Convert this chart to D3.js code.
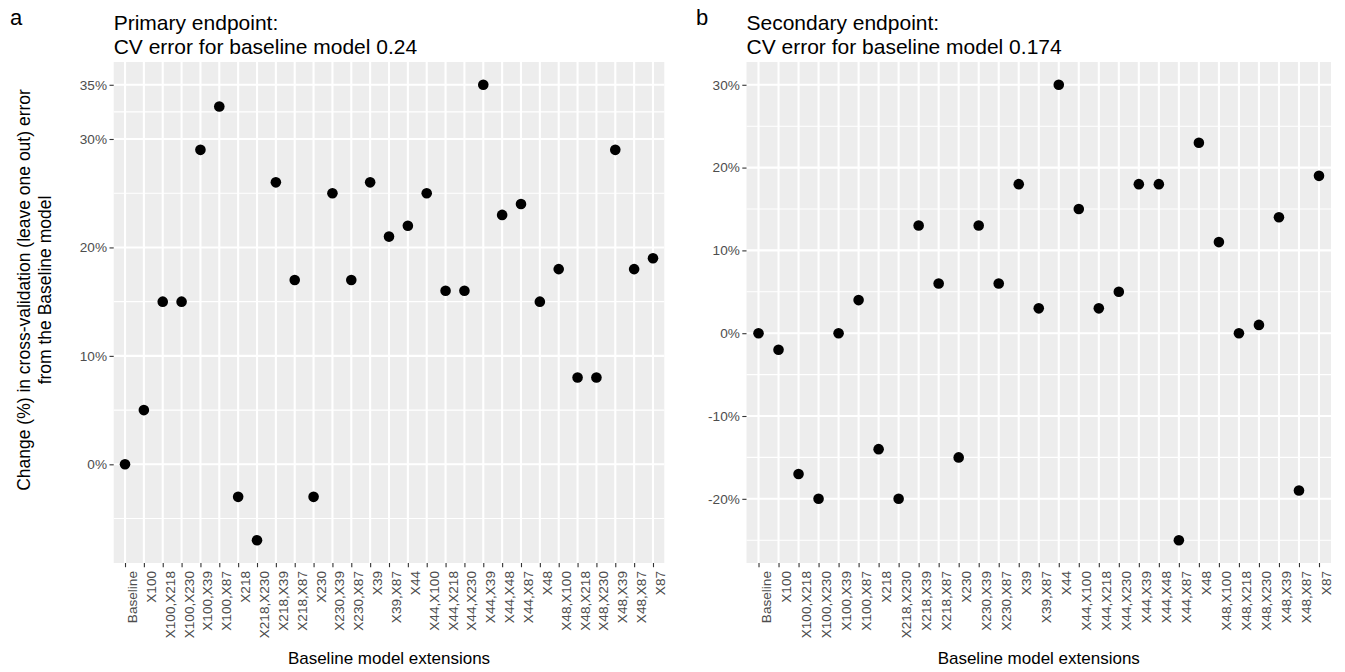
<!DOCTYPE html>
<html>
<head>
<meta charset="utf-8">
<script src="https://cdn.jsdelivr.net/npm/d3@7"></script>
<style>
body { margin: 0; background: #fff; }
svg { display: block; font-family: "Liberation Sans", Arial, sans-serif; }
</style>
</head>
<body>
<svg id="chart" width="1345" height="672"></svg>
<script>
var models = ["Baseline", "X100", "X100,X218", "X100,X230", "X100,X39", "X100,X87",
    "X218", "X218,X230", "X218,X39", "X218,X87", "X230", "X230,X39", "X230,X87",
    "X39", "X39,X87", "X44", "X44,X100", "X44,X218", "X44,X230", "X44,X39",
    "X44,X48", "X44,X87", "X48", "X48,X100", "X48,X218", "X48,X230", "X48,X39",
    "X48,X87", "X87"];

// change (%) in CV error vs baseline model
var primaryChange = [0, 5, 15, 15, 29, 33, -3, -7, 26, 17, -3, 25, 17, 26, 21,
    22, 25, 16, 16, 35, 23, 24, 15, 18, 8, 8, 29, 18, 19];
var secondaryChange = [0, -2, -17, -20, 0, 4, -14, -20, 13, 6, -15, 13, 6, 18, 3,
    30, 15, 3, 5, 18, 18, -25, 23, 11, 0, 1, 14, -19, 19];

var primaryBreaks = [0, 10, 20, 30, 35];
var primaryMinor = [-5, 5, 15, 25, 32.5];
var secondaryBreaks = [-20, -10, 0, 10, 20, 30];
var secondaryMinor = [-25, -15, -5, 5, 15, 25];

var panelTags = ["a", "b"];
var panelTitles = [
    ["Primary endpoint:", "CV error for baseline model 0.24"],
    ["Secondary endpoint:", "CV error for baseline model 0.174"]
];
var yTitleLines = ["Change (%) in cross-validation (leave one out) error", "from the Baseline model"];
var xTitle = "Baseline model extensions";

var svg = d3.select("#chart");
var panelTop = 62, panelBottom = 563;

function drawPanel(svg, opt){
    var g = svg.append("g");

    var x = d3.scalePoint()
        .domain(models)
        .range([opt.left, opt.right])
        .padding(0.6);

    var ext = d3.extent(opt.values);
    var pad = (ext[1] - ext[0]) * 0.05;
    var y = d3.scaleLinear()
        .domain([ext[0] - pad, ext[1] + pad])
        .range([panelBottom, panelTop]);

    g.append("rect")
        .attr("x", opt.left).attr("y", panelTop)
        .attr("width", opt.right - opt.left).attr("height", panelBottom - panelTop)
        .attr("fill", "#ededed");

    g.selectAll(".minor").data(opt.minor).enter().append("line")
        .attr("class", "minor")
        .attr("x1", opt.left).attr("x2", opt.right)
        .attr("y1", d => y(d)).attr("y2", d => y(d))
        .attr("stroke", "#fff").attr("stroke-width", 1.1);

    g.selectAll(".hmajor").data(opt.breaks).enter().append("line")
        .attr("class", "hmajor")
        .attr("x1", opt.left).attr("x2", opt.right)
        .attr("y1", d => y(d)).attr("y2", d => y(d))
        .attr("stroke", "#fff").attr("stroke-width", 2.1);

    g.selectAll(".vmajor").data(models).enter().append("line")
        .attr("class", "vmajor")
        .attr("x1", d => x(d)).attr("x2", d => x(d))
        .attr("y1", panelTop).attr("y2", panelBottom)
        .attr("stroke", "#fff").attr("stroke-width", 2.1);

    g.selectAll(".dot").data(models).enter().append("circle")
        .attr("class", "dot")
        .attr("cx", d => x(d))
        .attr("cy", (d, i) => y(opt.values[i]))
        .attr("r", 5.3)
        .attr("fill", "#000");

    // y axis
    var yAxis = d3.axisLeft(y)
        .tickValues(opt.breaks)
        .tickSize(4.2)
        .tickPadding(2.5)
        .tickFormat(d => d + "%");
    var ya = g.append("g")
        .attr("transform", "translate(" + opt.left + ",0)")
        .call(yAxis);
    ya.select(".domain").remove();
    ya.selectAll(".tick line").attr("stroke", "#333").attr("stroke-width", 1.1);
    ya.selectAll(".tick text")
        .attr("fill", "#4d4d4d")
        .style("font-size", "13.6px")
        .style("font-family", "'Liberation Sans', Arial, sans-serif");

    // x axis
    var xAxis = d3.axisBottom(x).tickSize(4.2).tickPadding(0);
    var xa = g.append("g")
        .attr("transform", "translate(0," + panelBottom + ")")
        .call(xAxis);
    xa.select(".domain").remove();
    xa.selectAll(".tick line").attr("stroke", "#333").attr("stroke-width", 1.1);
    xa.selectAll(".tick text")
        .attr("fill", "#4d4d4d")
        .style("font-size", "13.6px")
        .style("font-family", "'Liberation Sans', Arial, sans-serif")
        .attr("text-anchor", "end")
        .attr("dy", null)
        .attr("transform", "translate(11.5,8) rotate(-90)")
        .attr("x", 0).attr("y", 0);

    g.append("text")
        .attr("x", (opt.left + opt.right) / 2)
        .attr("y", 664)
        .attr("text-anchor", "middle")
        .style("font-size", "17px")
        .text(xTitle);

    // titles
    opt.title.forEach(function(t, i){
        g.append("text")
            .attr("x", opt.left)
            .attr("y", 29.5 + i * 24)
            .style("font-size", "21px")
            .text(t);
    });
    g.append("text")
        .attr("x", opt.tagX)
        .attr("y", 25)
        .style("font-size", "22px")
        .text(opt.tag);
}

drawPanel(svg, {
    left: 113.7, right: 664.3,
    values: primaryChange,
    breaks: primaryBreaks, minor: primaryMinor,
    title: panelTitles[0], tag: panelTags[0], tagX: 10
});

drawPanel(svg, {
    left: 746.5, right: 1331,
    values: secondaryChange,
    breaks: secondaryBreaks, minor: secondaryMinor,
    title: panelTitles[1], tag: panelTags[1], tagX: 696
});

// y title on the left panel
var ymid = 290;
yTitleLines.forEach(function(t, i){
    svg.append("text")
        .attr("transform", "translate(" + (30 + i * 21) + "," + ymid + ") rotate(-90)")
        .attr("text-anchor", "middle")
        .style("font-size", "17.5px")
        .text(t);
});
</script>
</body>
</html>
